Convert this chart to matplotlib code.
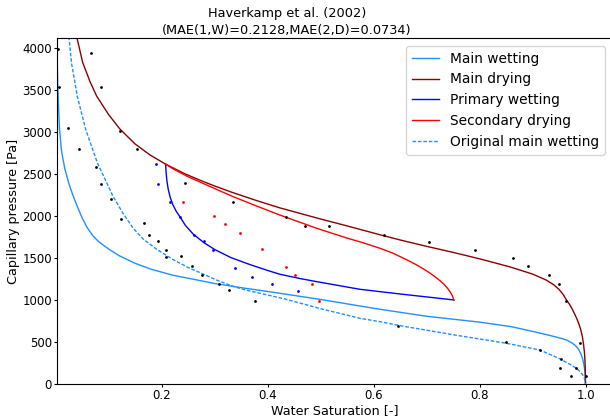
import matplotlib
matplotlib.use("Agg")
import matplotlib.pyplot as plt

# ---- curves ----
main_wet_S = [0.002, 0.004, 0.007, 0.011, 0.0175, 0.025, 0.032, 0.04, 0.05, 0.06, 0.07, 0.08, 0.09,
              0.1025, 0.12, 0.15, 0.18, 0.22, 0.26, 0.30, 0.35, 0.40, 0.50, 0.60, 0.65, 0.70, 0.80,
              0.86, 0.90, 0.94, 0.955, 0.965, 0.975, 0.982, 0.987, 0.991, 0.994, 0.996, 0.998,
              0.999, 1.0]
main_wet_P = [4150, 3550, 3060, 2780, 2560, 2390, 2260, 2130, 1980, 1860, 1770, 1705, 1655,
              1600, 1530, 1440, 1370, 1300, 1250, 1200, 1150, 1105, 1010, 905, 857, 810, 740,
              686, 630, 570, 545, 525, 490, 455, 415, 365, 315, 265, 195,
              135, 0]

main_dry_S = [0.036, 0.040, 0.051, 0.065, 0.0774, 0.10, 0.121, 0.15, 0.178, 0.2075, 0.244, 0.272,
              0.30, 0.335, 0.38, 0.423, 0.4925, 0.55, 0.612, 0.65, 0.70, 0.75, 0.801, 0.857, 0.90,
              0.926, 0.94, 0.95, 0.958, 0.964, 0.970, 0.975, 0.980, 0.984, 0.988, 0.991, 0.994,
              0.996, 0.998, 0.999, 0.9997, 1.0]
main_dry_P = [4200, 4130, 3830, 3600, 3430, 3210, 3040, 2860, 2730, 2620, 2505, 2430,
              2360, 2280, 2185, 2100, 1980, 1885, 1780, 1718, 1642, 1570, 1492, 1398, 1312,
              1240, 1185, 1130, 1068, 1004, 950, 895, 830, 775, 710, 650, 570,
              490, 380, 280, 150, 0]

prim_wet_S = [0.2075, 0.2085, 0.210, 0.2125, 0.216, 0.221, 0.2275, 0.2345, 0.245, 0.26, 0.28,
              0.30, 0.33, 0.3666, 0.40, 0.423, 0.46, 0.4925, 0.574, 0.65, 0.70, 0.7515]
prim_wet_P = [2620, 2520, 2420, 2320, 2230, 2140, 2060, 1995, 1890, 1785, 1685,
              1605, 1510, 1425, 1355, 1310, 1260, 1222, 1131, 1075, 1040, 1004]

sec_dry_S = [0.2075, 0.22, 0.25, 0.30, 0.335, 0.38, 0.423, 0.4925, 0.55, 0.58, 0.612, 0.635,
             0.65, 0.665, 0.68, 0.695, 0.706, 0.716, 0.725, 0.733, 0.740, 0.745, 0.749, 0.7515]
sec_dry_P = [2620, 2570, 2470, 2330, 2233, 2120, 2015, 1857, 1740, 1685, 1619, 1565,
             1520, 1475, 1425, 1370, 1325, 1280, 1235, 1190, 1140, 1095, 1050, 1000]

orig_wet_S = [0.022, 0.0251, 0.030, 0.041, 0.057, 0.079, 0.1087, 0.127, 0.146, 0.165, 0.19, 0.22,
              0.25, 0.272, 0.304, 0.335, 0.36, 0.43, 0.50, 0.574, 0.612, 0.65, 0.75, 0.851, 0.914,
              0.951, 0.97, 0.983, 0.99, 0.995, 0.998, 1.0]
orig_wet_P = [4200, 4131, 3821, 3424, 3027, 2631, 2233, 2036, 1860, 1730, 1610, 1490,
              1390, 1330, 1240, 1165, 1120, 1020, 900, 786, 745, 698, 590, 488, 408,
              305, 240, 190, 150, 110, 70, 0]

# ---- measured points ----
black_S = [0.005, 0.0068, 0.0226, 0.0446, 0.0666, 0.0849, 0.0755, 0.0855, 0.1038, 0.121, 0.124,
           0.153, 0.1666, 0.244, 0.334, 0.434, 0.4698, 0.515, 0.619, 0.705, 0.791, 0.863, 0.8906,
           0.9308, 0.9496, 0.963, 0.989, 0.177, 0.194, 0.2075, 0.209, 0.236, 0.258, 0.2755,
           0.3075, 0.328, 0.376, 0.647, 0.8496, 0.914, 0.9534, 0.9515, 0.9817, 0.9717, 1.0]
black_P = [3988, 3535, 3055, 2798, 3940, 3535, 2590, 2385, 2202, 3019, 1970,
           2798, 1917, 2393, 2167, 1988, 1885, 1885, 1777, 1698, 1599, 1500, 1405,
           1298, 1190, 995, 488, 1780, 1704, 1603, 1510, 1527, 1412, 1305,
           1198, 1119, 995, 698, 504, 408, 301, 198, 198, 102, 102]

blue_S = [0.1887, 0.1936, 0.2157, 0.2345, 0.2615, 0.280, 0.297, 0.338, 0.371, 0.4075, 0.4566]
blue_P = [2623, 2385, 2167, 1995, 1781, 1710, 1603, 1388, 1281, 1194, 1114]

red_S = [0.2396, 0.2987, 0.320, 0.3477, 0.3887, 0.434, 0.452, 0.484, 0.497]
red_P = [2170, 2004, 1912, 1805, 1607, 1393, 1298, 1194, 995]

title = "Haverkamp et al. (2002)\n(MAE(1,W)=0.2128,MAE(2,D)=0.0734)"
xticks = [0.2, 0.4, 0.6, 0.8, 1.0]
yticks = [0, 500, 1000, 1500, 2000, 2500, 3000, 3500, 4000]

fig = plt.figure(figsize=(6.1, 4.2), dpi=100)
ax = fig.add_axes([56.7 / 610, (420 - 384.3) / 420, (612 - 56.7) / 610, (384.3 - 37.7) / 420])

lw = 1.0
ax.plot(main_wet_S, main_wet_P, color="#1E90FF", lw=lw, label="Main wetting")
ax.plot(main_dry_S, main_dry_P, color="#8B0000", lw=lw, label="Main drying")
ax.plot(prim_wet_S, prim_wet_P, color="blue", lw=lw, label="Primary wetting")
ax.plot(sec_dry_S, sec_dry_P, color="red", lw=lw, label="Secondary drying")
ax.plot(orig_wet_S, orig_wet_P, color="#1E90FF", lw=lw, ls=(0, (2.6, 1.3)),
        label="Original main wetting")

ms = 2.0
ax.plot(black_S, black_P, ls="none", marker="o", ms=ms, mew=0, color="black")
ax.plot(blue_S, blue_P, ls="none", marker="o", ms=ms, mew=0, color="blue")
ax.plot(red_S, red_P, ls="none", marker="o", ms=ms, mew=0, color="red")

ax.set_xlim(0.002, 1.05)
ax.set_ylim(0, 4125)
ax.set_xticks(xticks)
ax.set_yticks(yticks)
ax.tick_params(labelsize=8.5, length=2, pad=1.5)
ax.set_xlabel("Water Saturation [-]", fontsize=9.2, labelpad=1)
ax.set_ylabel("Capillary pressure [Pa]", fontsize=9.2, labelpad=1.5)
ax.set_title(title, fontsize=9.3, x=(287 - 56.7) / (612 - 56.7), pad=3, linespacing=1.35)
ax.legend(loc="upper right", fontsize=9.9, bbox_to_anchor=(605 / 610, 1 - 46 / 420),
          bbox_transform=fig.transFigure, borderaxespad=0)

fig.savefig("out.png", dpi=100)
